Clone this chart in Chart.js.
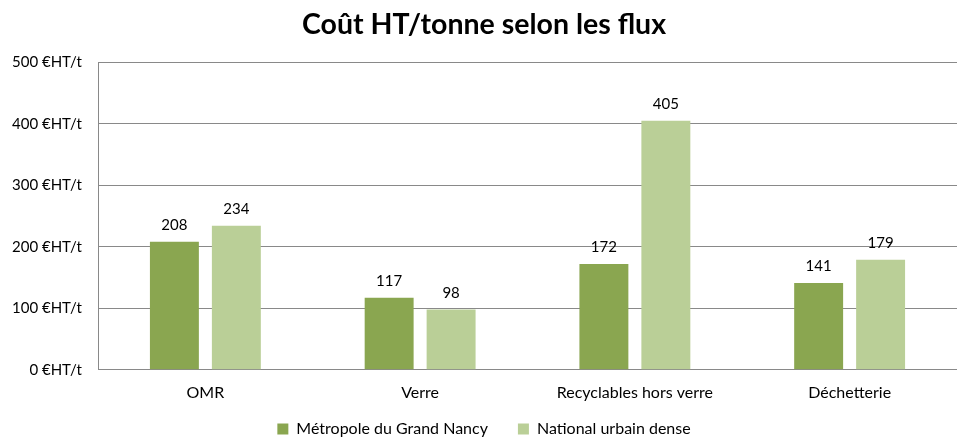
<!DOCTYPE html>
<html>
<head>
<meta charset="utf-8">
<script src="https://cdn.jsdelivr.net/npm/chart.js@4/dist/chart.umd.min.js"></script>
<style>
  html, body { margin: 0; padding: 0; background: #fff; }
  #wrap { width: 957px; height: 439px; }
</style>
</head>
<body>
<div id="wrap"><canvas id="coutChart" width="957" height="439"></canvas></div>
<script>
// categories and series
const categories = ["OMR", "Verre", "Recyclables hors verre", "Déchetterie"];
const metropole = [208, 117, 172, 141];
const national = [234, 98, 405, 179];
const seriesNames = ["Métropole du Grand Nancy", "National urbain dense"];
const yTicks = [0, 100, 200, 300, 400, 500];

const FONT = "Lato, 'Open Sans', sans-serif";
const LEGEND_SHRINK = 32;

const valueLabels = {
  id: "valueLabels",
  beforeInit(chart) {
    // legend keeps its wide horizontal spacing but takes less height
    const lg = chart.legend;
    if (lg) {
      const fit = lg.fit;
      const draw = lg.draw;
      lg.fit = function () { fit.call(this); this.height -= LEGEND_SHRINK; };
      lg.draw = function () {
        const top = this.top, bottom = this.bottom, height = this.height;
        this.top = top - 24;
        this.height = height + LEGEND_SHRINK;
        this.bottom = this.top + this.height;
        draw.call(this);
        this.top = top; this.bottom = bottom; this.height = height;
      };
    }
  },
  // value labels above each bar
  afterDatasetsDraw(chart) {
    const ctx = chart.ctx;
    ctx.save();
    ctx.font = "15px " + FONT;
    ctx.fillStyle = "#000";
    ctx.textAlign = "center";
    ctx.textBaseline = "bottom";
    chart.data.datasets.forEach((ds, i) => {
      chart.getDatasetMeta(i).data.forEach((bar, j) => {
        ctx.fillText(ds.data[j], bar.x, bar.y - 9);
      });
    });
    ctx.restore();
  }
};

new Chart(document.getElementById("coutChart"), {
  type: "bar",
  data: {
    labels: categories,
    datasets: [
      {
        label: seriesNames[0],
        data: metropole,
        backgroundColor: "#8aa650",
        categoryPercentage: 0.577,
        barPercentage: 0.79
      },
      {
        label: seriesNames[1],
        data: national,
        backgroundColor: "#bacf97",
        categoryPercentage: 0.577,
        barPercentage: 0.79
      }
    ]
  },
  options: {
    responsive: false,
    animation: false,
    layout: { padding: { left: 4, right: -7, top: 0, bottom: 0 } },
    plugins: {
      title: {
        display: true,
        text: "Coût HT/tonne selon les flux",
        color: "#000",
        font: { family: FONT, size: 28.5, weight: "bold" },
        padding: { top: 8, bottom: 20 }
      },
      legend: {
        position: "bottom",
        labels: {
          color: "#000",
          font: { family: FONT, size: 16 },
          boxWidth: 11,
          boxHeight: 11,
          padding: 30
        }
      },
      tooltip: { enabled: false }
    },
    scales: {
      x: {
        grid: { display: false, drawTicks: false },
        border: { color: "#898989", width: 1 },
        ticks: { color: "#000", font: { family: FONT, size: 16 }, padding: 13 }
      },
      y: {
        min: 0,
        max: 500,
        afterBuildTicks(axis) { axis.ticks = yTicks.map(v => ({ value: v })); },
        afterFit(axis) { axis.width = 94; },
        grid: { color: "#898989", drawTicks: false },
        border: { color: "#898989", width: 1 },
        ticks: {
          color: "#000",
          font: { family: FONT, size: 15 },
          padding: 16,
          callback: v => v + " €HT/t"
        }
      }
    }
  },
  plugins: [valueLabels]
});
</script>
</body>
</html>
